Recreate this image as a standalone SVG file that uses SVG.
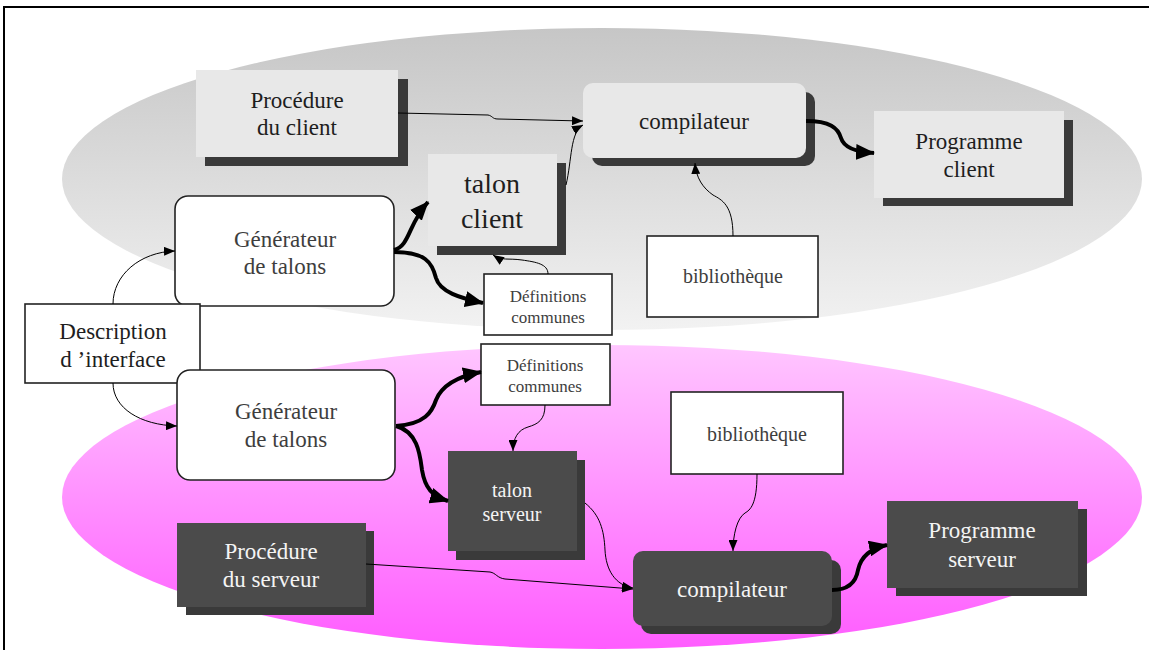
<svg xmlns="http://www.w3.org/2000/svg" width="1149" height="650" viewBox="0 0 1149 650">
<defs>
<linearGradient id="gGray" x1="0" y1="0" x2="0" y2="1">
<stop offset="0" stop-color="#c6c6c6"/>
<stop offset="1" stop-color="#f2f2f2"/>
</linearGradient>
<linearGradient id="gPink" x1="0" y1="0" x2="0" y2="1">
<stop offset="0" stop-color="#ffc6ff"/>
<stop offset="1" stop-color="#ff5cff"/>
</linearGradient>
<marker id="aThin" markerUnits="userSpaceOnUse" markerWidth="11" markerHeight="9" refX="11" refY="4.5" orient="auto">
<path d="M0,0 L11,4.5 L0,9 z" fill="#000"/>
</marker>
<marker id="aThick" markerUnits="userSpaceOnUse" markerWidth="19" markerHeight="16" refX="18" refY="8" orient="auto">
<path d="M0,0 L19,8 L0,16 z" fill="#000"/>
</marker>
</defs>
<style>
text{font-family:"Liberation Serif","Times New Roman",serif;text-anchor:middle;}
.t23{font-size:23px;}
.t20{font-size:20px;}
.t17{font-size:17px;}
.t28{font-size:28px;}
.dk{fill:#1e1e1e;}
.gy{fill:#3e3e3e;}
.wt{fill:#f4f4f4;}
.light{fill:#e8e8e8;}
.shadow{fill:#3a3a3a;}
.dark{fill:#4b4b4b;}
.white{fill:#ffffff;stroke:#222;stroke-width:1.6;}
.thin{fill:none;stroke:#000;stroke-width:1;marker-end:url(#aThin);}
.thick{fill:none;stroke:#000;stroke-width:4;marker-end:url(#aThick);}
</style>
<rect x="0" y="0" width="1149" height="650" fill="#fff"/>
<rect x="4" y="7" width="1170" height="680" fill="none" stroke="#000" stroke-width="2"/>
<ellipse cx="602" cy="179" rx="540" ry="151" fill="url(#gGray)"/>
<ellipse cx="602" cy="497" rx="540" ry="152" fill="url(#gPink)"/>

<g id="proc-client">
<rect class="shadow" x="205" y="79" width="203" height="87"/>
<rect class="light" x="196" y="70" width="202" height="87"/>
<text class="t23 dk" x="297" y="108">Procédure</text>
<text class="t23 dk" x="297" y="135">du client</text>
</g>
<g id="compil-client">
<rect class="shadow" x="592" y="92" width="223" height="74" rx="10"/>
<rect class="light" x="583" y="83" width="223" height="75" rx="10"/>
<text class="t23 dk" x="694" y="129">compilateur</text>
</g>
<g id="prog-client">
<rect class="shadow" x="883" y="120" width="190" height="86"/>
<rect class="light" x="874" y="111" width="190" height="87"/>
<text class="t23 dk" x="969" y="149">Programme</text>
<text class="t23 dk" x="969" y="177">client</text>
</g>
<g id="talon-client">
<rect class="shadow" x="437" y="163" width="129" height="92"/>
<rect class="light" x="428" y="154" width="129" height="92"/>
<text class="t28 dk" x="492" y="193">talon</text>
<text class="t28 dk" x="492" y="228">client</text>
</g>
<g id="gen-top">
<rect class="white" x="175" y="196" width="219" height="110" rx="13"/>
<text class="t23 gy" x="285" y="247">Générateur</text>
<text class="t23 gy" x="285" y="274">de talons</text>
</g>
<g id="def-top">
<rect class="white" x="484" y="274" width="128" height="61"/>
<text class="t17 gy" x="548" y="302">Définitions</text>
<text class="t17 gy" x="548" y="323">communes</text>
</g>
<g id="biblio-top">
<rect class="white" x="647" y="236" width="171" height="81"/>
<text class="t20 gy" x="733" y="283">bibliothèque</text>
</g>
<g id="description">
<rect class="white" x="25" y="304" width="175" height="79"/>
<text class="t23 dk" x="113" y="339">Description</text>
<text class="t23 dk" x="113" y="367">d ’interface</text>
</g>
<g id="def-bottom">
<rect class="white" x="481" y="344" width="129" height="61"/>
<text class="t17 gy" x="545" y="371">Définitions</text>
<text class="t17 gy" x="545" y="392">communes</text>
</g>
<g id="gen-bottom">
<rect class="white" x="177" y="370" width="218" height="110" rx="13"/>
<text class="t23 gy" x="286" y="419">Générateur</text>
<text class="t23 gy" x="286" y="447">de talons</text>
</g>
<g id="talon-serveur">
<rect class="shadow" x="456" y="460" width="129" height="100"/>
<rect class="dark" x="448" y="451" width="129" height="100"/>
<text class="t20 wt" x="512" y="497">talon</text>
<text class="t20 wt" x="512" y="521">serveur</text>
</g>
<g id="biblio-bottom">
<rect class="white" x="671" y="392" width="172" height="82"/>
<text class="t20 gy" x="757" y="441">bibliothèque</text>
</g>
<g id="proc-serveur">
<rect class="shadow" x="186" y="531" width="188" height="84"/>
<rect class="dark" x="177" y="523" width="189" height="84"/>
<text class="t23 wt" x="271" y="559">Procédure</text>
<text class="t23 wt" x="271" y="587">du serveur</text>
</g>
<g id="compil-serveur">
<rect class="shadow" x="641" y="560" width="200" height="74" rx="10"/>
<rect class="dark" x="633" y="551" width="199" height="75" rx="10"/>
<text class="t23 wt" x="732" y="597">compilateur</text>
</g>
<g id="prog-serveur">
<rect class="shadow" x="896" y="509" width="191" height="87"/>
<rect class="dark" x="887" y="501" width="191" height="87"/>
<text class="t23 wt" x="982" y="538">Programme</text>
<text class="t23 wt" x="982" y="567">serveur</text>
</g>

<g id="connectors">
<path class="thin" d="M398,113 L488,115 C493,116 492,119 498,119 L583,121"/>
<path class="thin" d="M566,185 C572,160 570,132 583,125"/>
<path class="thin" d="M113,304 C113,275 140,252 175,251"/>
<path class="thin" d="M113,383 C113,408 140,425 177,426"/>
<path class="thin" d="M548,274 C548,264 536,262 522,260 C508,258 502,261 493,255"/>
<path class="thin" d="M545,405 C545,420 538,424 528,427 C518,430 513,438 513,451"/>
<path class="thin" d="M733,236 C733,205 722,200 713,195 C703,188 696,178 695,163"/>
<path class="thin" d="M757,474 C757,505 750,510 745,513 C737,518 733,535 733,551"/>
<path class="thin" d="M585,503 C600,515 604,530 605,550 C606,570 615,585 633,588"/>
<path class="thin" d="M366,564 L490,572 C496,573 497,578 505,579 L633,589"/>
<path class="thick" d="M394,250 C410,246 408,224 428,202"/>
<path class="thick" d="M394,252 C425,252 432,262 436,278 C440,292 460,298 483,303"/>
<path class="thick" d="M396,426 C425,424 432,412 436,400 C442,385 460,376 481,372"/>
<path class="thick" d="M396,426 C418,432 420,455 422,470 C425,488 432,496 448,501"/>
<path class="thick" d="M806,121 C830,121 838,128 841,138 C844,148 856,152 874,153"/>
<path class="thick" d="M832,590 C848,590 856,582 858,570 C861,556 872,548 887,545"/>
</g>
</svg>
